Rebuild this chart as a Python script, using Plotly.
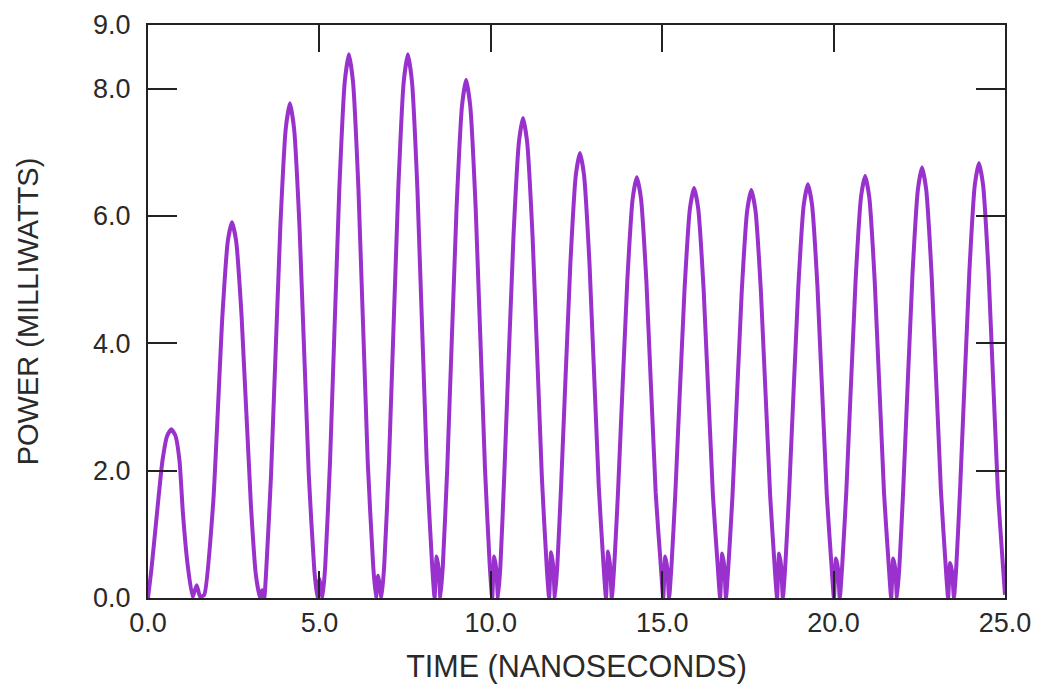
import plotly.graph_objects as go

# Readings taken off the reference trace (time in ns, power in mW)
time_ns = [
    0.00, 0.10, 0.26, 0.42, 0.56, 0.68, 0.80, 0.92, 1.02, 1.15, 1.30, 1.42, 1.52, 1.64,
    1.90, 2.17, 2.33, 2.45, 2.57, 2.73, 3.00,
    3.15, 3.27, 3.33, 3.39, 3.45,
    3.59, 3.86, 4.02, 4.14, 4.26, 4.42, 4.69,
    4.85, 4.94, 5.00, 5.05, 5.09, 5.17,
    5.31, 5.58, 5.74, 5.86, 5.98, 6.14, 6.41,
    6.57, 6.65, 6.71, 6.77, 6.81, 6.89,
    7.03, 7.30, 7.46, 7.58, 7.70, 7.86, 8.13,
    8.29, 8.36, 8.42, 8.48, 8.53, 8.60,
    8.73, 9.00, 9.16, 9.28, 9.40, 9.56, 9.83,
    9.97, 10.04, 10.10, 10.16, 10.21, 10.28,
    10.39, 10.66, 10.82, 10.94, 11.06, 11.22, 11.49,
    11.63, 11.70, 11.76, 11.82, 11.87, 11.94,
    12.05, 12.32, 12.48, 12.60, 12.72, 12.88, 13.15,
    13.29, 13.36, 13.42, 13.48, 13.53, 13.60,
    13.71, 13.98, 14.14, 14.26, 14.38, 14.54, 14.81,
    14.96, 15.03, 15.09, 15.15, 15.20, 15.27,
    15.38, 15.65, 15.81, 15.93, 16.05, 16.21, 16.48,
    16.62, 16.69, 16.75, 16.81, 16.86, 16.93,
    17.05, 17.32, 17.48, 17.60, 17.72, 17.88, 18.15,
    18.28, 18.35, 18.41, 18.47, 18.52, 18.59,
    18.70, 18.97, 19.13, 19.25, 19.37, 19.53, 19.80,
    19.94, 20.01, 20.07, 20.13, 20.18, 20.25,
    20.37, 20.64, 20.80, 20.92, 21.04, 21.20, 21.47,
    21.61, 21.68, 21.74, 21.80, 21.85, 21.92,
    22.03, 22.30, 22.46, 22.58, 22.70, 22.86, 23.13,
    23.27, 23.34, 23.40, 23.46, 23.51, 23.58,
    23.69, 23.96, 24.12, 24.24, 24.36, 24.52, 24.79, 25.00,
]
power_mw = [
    0.00, 0.45, 1.32, 2.15, 2.55, 2.65, 2.55, 2.15, 1.32, 0.55, 0.02, 0.20, 0.02, 0.05,
    1.48, 4.43, 5.61, 5.90, 5.61, 4.43, 1.48,
    0.35, 0.00, 0.12, 0.00, 0.45,
    1.94, 5.83, 7.38, 7.77, 7.38, 5.83, 1.94,
    0.45, 0.00, 0.30, 0.10, 0.00, 0.50,
    2.14, 6.41, 8.11, 8.54, 8.11, 6.41, 2.14,
    0.50, 0.00, 0.35, 0.15, 0.00, 0.50,
    2.14, 6.41, 8.11, 8.54, 8.11, 6.41, 2.14,
    0.50, 0.00, 0.65, 0.45, 0.00, 0.50,
    2.04, 6.11, 7.73, 8.14, 7.73, 6.11, 2.04,
    0.50, 0.00, 0.65, 0.45, 0.00, 0.50,
    1.89, 5.66, 7.16, 7.54, 7.16, 5.66, 1.89,
    0.50, 0.00, 0.72, 0.50, 0.00, 0.50,
    1.75, 5.24, 6.64, 6.99, 6.64, 5.24, 1.75,
    0.50, 0.00, 0.73, 0.50, 0.00, 0.50,
    1.65, 4.96, 6.28, 6.61, 6.28, 4.96, 1.65,
    0.50, 0.00, 0.65, 0.45, 0.00, 0.50,
    1.61, 4.83, 6.12, 6.44, 6.12, 4.83, 1.61,
    0.50, 0.00, 0.70, 0.50, 0.00, 0.50,
    1.60, 4.81, 6.09, 6.41, 6.09, 4.81, 1.60,
    0.50, 0.00, 0.70, 0.50, 0.00, 0.50,
    1.63, 4.88, 6.18, 6.50, 6.18, 4.88, 1.63,
    0.50, 0.00, 0.62, 0.45, 0.00, 0.50,
    1.66, 4.97, 6.30, 6.63, 6.30, 4.97, 1.66,
    0.50, 0.00, 0.62, 0.45, 0.00, 0.50,
    1.69, 5.07, 6.42, 6.76, 6.42, 5.07, 1.69,
    0.50, 0.00, 0.55, 0.40, 0.00, 0.50,
    1.71, 5.12, 6.49, 6.83, 6.49, 5.12, 1.71, 0.05,
]

x_tick_vals = [0, 5, 10, 15, 20, 25]
x_tick_text = ["0.0", "5.0", "10.0", "15.0", "20.0", "25.0"]
y_tick_vals = [0, 2, 4, 6, 8, 9]
y_tick_text = ["0.0", "2.0", "4.0", "6.0", "8.0", "9.0"]

FONT = "Liberation Sans, Arial, sans-serif"
AXIS_COLOR = "#222222"
TEXT_COLOR = "#2a2a2a"

fig = go.Figure(
    go.Scatter(
        x=time_ns,
        y=power_mw,
        mode="lines",
        line=dict(color="#9932CC", width=4, shape="spline", smoothing=0.5),
        hoverinfo="x+y",
    )
)

fig.update_layout(
    width=1039,
    height=684,
    margin=dict(l=148, r=34, t=25, b=86, autoexpand=False),
    paper_bgcolor="white",
    plot_bgcolor="white",
    showlegend=False,
    font=dict(family=FONT, color=TEXT_COLOR),
)

fig.update_xaxes(
    range=[0, 25],
    automargin=False,
    tickvals=x_tick_vals,
    ticktext=x_tick_text,
    ticks="inside",
    ticklen=27,
    tickwidth=2,
    tickcolor=AXIS_COLOR,
    showline=True,
    linewidth=2,
    linecolor=AXIS_COLOR,
    mirror="ticks",
    showgrid=False,
    zeroline=False,
    tickfont=dict(size=27, family=FONT, color=TEXT_COLOR),
    ticklabelstandoff=0,
    title=dict(text="TIME (NANOSECONDS)", font=dict(size=30.5, family=FONT, color=TEXT_COLOR), standoff=20),
)

fig.update_yaxes(
    range=[0, 9],
    automargin=False,
    tickvals=y_tick_vals,
    ticktext=y_tick_text,
    ticks="inside",
    ticklen=29,
    tickwidth=2,
    tickcolor=AXIS_COLOR,
    showline=True,
    linewidth=2,
    linecolor=AXIS_COLOR,
    mirror="ticks",
    showgrid=False,
    zeroline=False,
    tickfont=dict(size=27, family=FONT, color=TEXT_COLOR),
    ticklabelstandoff=10,
    title=dict(text="POWER (MILLIWATTS)", font=dict(size=29, family=FONT, color=TEXT_COLOR), standoff=46),
)

fig.write_html("out.html")
